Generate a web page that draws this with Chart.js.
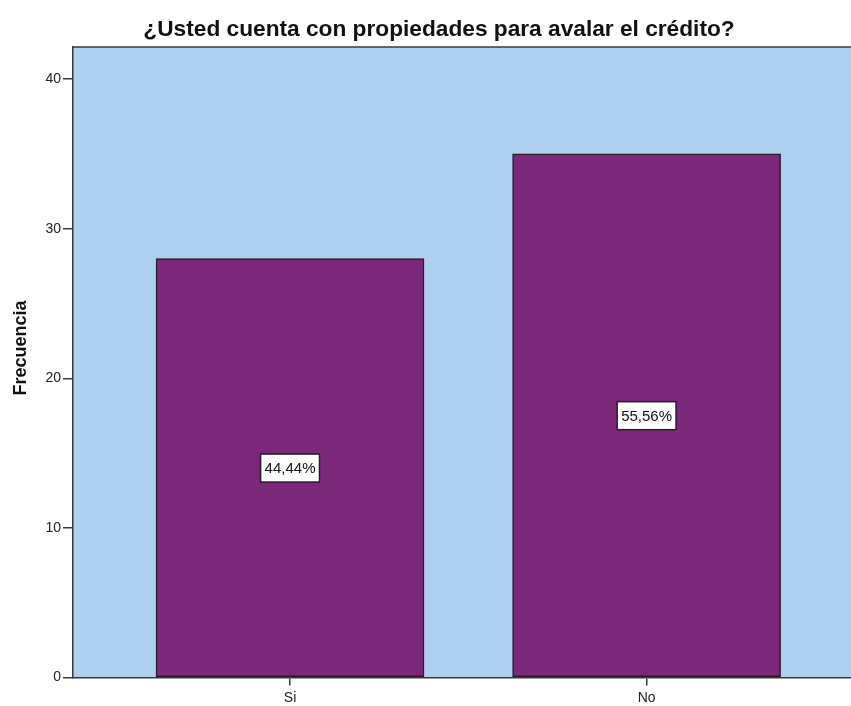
<!DOCTYPE html>
<html>
<head>
<meta charset="utf-8">
<title>¿Usted cuenta con propiedades para avalar el crédito?</title>
<script src="https://cdn.jsdelivr.net/npm/chart.js@4/dist/chart.umd.min.js"></script>
<style>
  html, body { margin: 0; padding: 0; background: #ffffff; overflow: hidden; }
  #wrap { width: 900px; height: 706px; }
</style>
</head>
<body>
<div id="wrap"><canvas id="chart" width="900" height="706"></canvas></div>
<script>
// Answers and their counts
const categories = ['Si', 'No'];
const frequencies = [28, 35];
const yTicks = [0, 10, 20, 30, 40];

const chartTitle = '¿Usted cuenta con propiedades para avalar el crédito?';
const yTitle = 'Frecuencia';

const total = frequencies.reduce((a, b) => a + b, 0);
const pctLabel = v => (v / total * 100).toFixed(2).replace('.', ',') + '%';

const FONT = '"Liberation Sans", Arial, sans-serif';
const PLOT_BG = '#aed0ee';
const BAR_FILL = '#7b287a';
const AXIS = '#3a3a3a';

// Plot background with the top frame line
const plotBackground = {
  id: 'plotBackground',
  beforeDraw(chart) {
    const { ctx, chartArea: a } = chart;
    ctx.save();
    ctx.fillStyle = PLOT_BG;
    ctx.fillRect(a.left, a.top, a.right - a.left, a.bottom - a.top);
    ctx.strokeStyle = AXIS;
    ctx.lineWidth = 1.5;
    ctx.beginPath();
    ctx.moveTo(a.left, a.top);
    ctx.lineTo(a.right, a.top);
    ctx.stroke();
    ctx.restore();
  }
};

// Percentage boxes at the middle of each bar, plus the vertical axis title
const barLabels = {
  id: 'barLabels',
  afterDatasetsDraw(chart) {
    const { ctx } = chart;
    const yScale = chart.scales.y;
    const meta = chart.getDatasetMeta(0);
    ctx.save();
    ctx.font = '15px ' + FONT;
    ctx.textAlign = 'center';
    ctx.textBaseline = 'middle';
    meta.data.forEach((bar, i) => {
      const v = frequencies[i];
      const txt = pctLabel(v);
      const cx = bar.x;
      const cy = yScale.getPixelForValue(v / 2);
      const w = ctx.measureText(txt).width + 8;
      const h = 28;
      ctx.fillStyle = '#ffffff';
      ctx.fillRect(cx - w / 2, cy - h / 2, w, h);
      ctx.strokeStyle = '#2a1a2a';
      ctx.lineWidth = 1.5;
      ctx.strokeRect(cx - w / 2, cy - h / 2, w, h);
      ctx.fillStyle = '#111111';
      ctx.fillText(txt, cx, cy + 1);
    });
    // vertical axis title
    ctx.font = 'bold 18px ' + FONT;
    ctx.fillStyle = '#111111';
    ctx.translate(21, 348);
    ctx.rotate(-Math.PI / 2);
    ctx.fillText(yTitle, 0, 0);
    ctx.restore();
  }
};

new Chart(document.getElementById('chart'), {
  type: 'bar',
  data: {
    datasets: [{
      data: frequencies.map((v, i) => ({ x: i, y: v })),
      backgroundColor: BAR_FILL,
      borderColor: '#2b1a2b',
      borderWidth: 1.5,
      borderSkipped: false,
      barThickness: 268
    }]
  },
  plugins: [plotBackground, barLabels],
  options: {
    responsive: false,
    animation: false,
    layout: { padding: { left: 0, right: 22, top: 0, bottom: 0 } },
    plugins: {
      legend: { display: false },
      tooltip: { enabled: false },
      title: {
        display: true,
        text: chartTitle,
        color: '#111111',
        font: { family: FONT, size: 22.7, weight: 'bold' },
        padding: { top: 16.5, bottom: 3.3 }
      }
    },
    scales: {
      x: {
        type: 'linear',
        offset: false,
        min: -0.6087,
        max: 1.649,
        afterBuildTicks: s => { s.ticks = categories.map((c, i) => ({ value: i })); },
        afterFit: s => { s.height = 28.5; },
        ticks: {
          callback: v => categories[v],
          color: '#222222',
          font: { family: FONT, size: 14 },
          padding: 4,
          autoSkip: false,
          maxRotation: 0
        },
        grid: { offset: false, drawOnChartArea: false, drawTicks: true, tickLength: 8, color: AXIS, lineWidth: 1.5 },
        border: { display: true, color: AXIS, width: 1.5 }
      },
      y: {
        min: 0,
        max: 42.14,
        afterBuildTicks: s => { s.ticks = yTicks.map(v => ({ value: v })); },
        afterFit: s => { s.width = 73; },
        ticks: {
          color: '#222222',
          font: { family: FONT, size: 14 },
          padding: 2
        },
        grid: { drawOnChartArea: false, drawTicks: true, tickLength: 10, color: AXIS, lineWidth: 1.5 },
        border: { display: true, color: AXIS, width: 1.5 }
      }
    }
  }
});
</script>
</body>
</html>
